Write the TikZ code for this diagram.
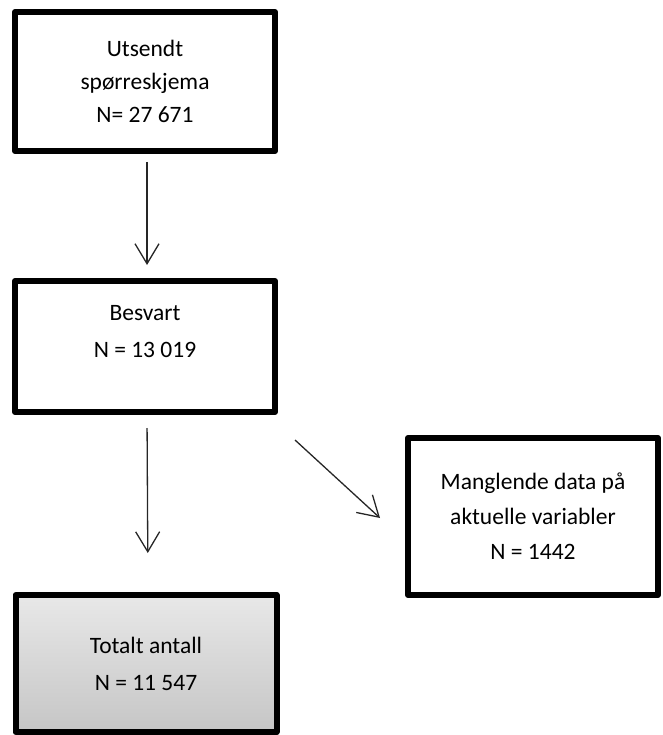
\documentclass[tikz,border=0pt]{standalone}
\usepackage{fontspec}
\setmainfont{Carlito}
\usetikzlibrary{arrows.meta,shadows}

\begin{document}
\begin{tikzpicture}[x=1pt, y=1pt,
  box/.style={draw=black, line width=6pt, line join=round, fill=white,
    align=center, inner sep=0pt, font=\fontsize{23.5}{36}\selectfont},
  flow/.style={-{Straight Barb[length=20pt,width=24pt]}, line width=1.3pt, draw=black!85}]
  % Fix the page to the size of the figure
  \useasboundingbox (0,0) rectangle (662,-735);

  % Draw the boxes
  \node[box, minimum width=260pt, minimum height=139pt,
    font=\fontsize{23.5}{33}\selectfont] (utsendt) at (145,-81.5)
    {Utsendt\\spørreskjema\\N= 27 671};
  \node[box, minimum width=260pt, minimum height=131pt] (besvart) at (145,-346.5) {};
  \node[font=\fontsize{23.5}{37}\selectfont, align=center] (besvarttxt)
    at ([yshift=15pt]besvart.center) {Besvart\\N = 13 019};
  \node[box, minimum width=250pt, minimum height=157pt,
    font=\fontsize{23.5}{35}\selectfont] (mangler) at (533,-516.5)
    {Manglende data på\\aktuelle variabler\\N = 1442};
  \node[box, minimum width=261pt, minimum height=137pt, fill=none,
    top color=gray!18, bottom color=gray!45,
    drop shadow={opacity=0.25, shadow xshift=2pt, shadow yshift=-2pt},
    font=\fontsize{23.5}{37}\selectfont] (totalt) at (146,-663.5)
    {Totalt antall\\N = 11 547};

  % Draw the arrows
  \draw[flow, shorten <=8pt, shorten >=13pt] ([xshift=2pt]utsendt.south) -- ([xshift=2pt]besvart.north);
  \draw[flow, shorten <=13pt, shorten >=39pt] ([xshift=2pt]besvart.south) -- ([xshift=2pt]totalt.north);
  \coordinate (skraastart) at (295,-440);
  \coordinate (skraaslutt) at (380,-518);
  \draw[flow] (skraastart) -- (skraaslutt);
\end{tikzpicture}
\end{document}
